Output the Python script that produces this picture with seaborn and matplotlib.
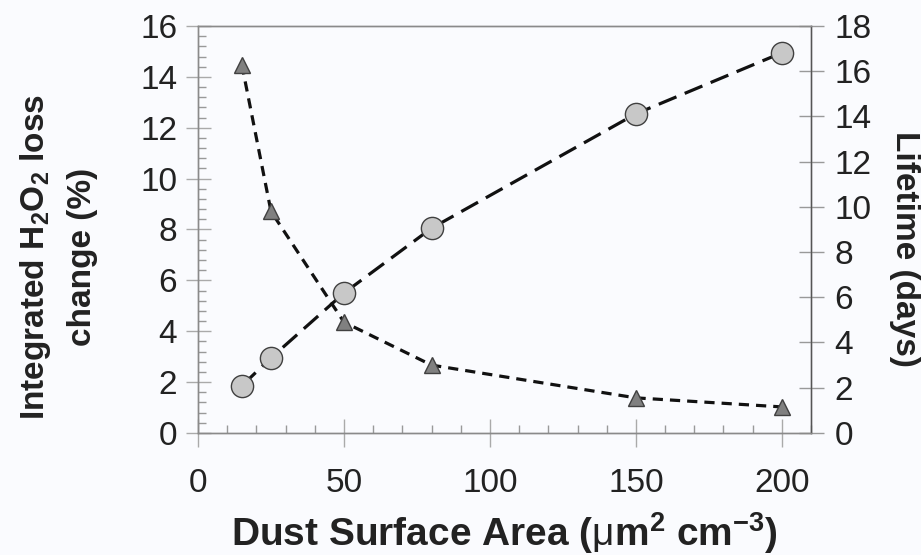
import matplotlib
matplotlib.use("Agg")
import matplotlib.pyplot as plt
import seaborn as sns
import pandas as pd
from matplotlib.ticker import MultipleLocator

# Data
dust_area = [15, 25, 50, 80, 150, 200]
h2o2_loss_change = [1.85, 2.95, 5.5, 8.05, 12.55, 14.95]
lifetime_days = [16.3, 9.8, 4.9, 3.0, 1.55, 1.15]
x_ticks = [0, 50, 100, 150, 200]
left_ticks = [0, 2, 4, 6, 8, 10, 12, 14, 16]
right_ticks = [0, 2, 4, 6, 8, 10, 12, 14, 16, 18]

df = pd.DataFrame({"area": dust_area, "loss": h2o2_loss_change, "life": lifetime_days})

sns.set_theme(style="ticks")
plt.rcParams["font.family"] = ["Liberation Sans", "DejaVu Sans"]
plt.rcParams["mathtext.fontset"] = "custom"
plt.rcParams["mathtext.rm"] = "Liberation Sans"
plt.rcParams["mathtext.bf"] = "Liberation Sans:bold"
plt.rcParams["mathtext.it"] = "Liberation Sans:italic"

bg = "#fafbfe"
fig = plt.figure(figsize=(9.21, 5.55), dpi=100, facecolor=bg)
ax = fig.add_axes([0.215, 0.22, 0.6656, 0.733])
ax.set_facecolor(bg)
ax2 = ax.twinx()

sns.lineplot(data=df, x="area", y="loss", ax=ax, color="#111111", lw=2.3,
             marker="o", markersize=16, markerfacecolor="#c8c8c8",
             markeredgecolor="#404040", markeredgewidth=1.0, errorbar=None, zorder=3)
sns.lineplot(data=df, x="area", y="life", ax=ax2, color="#111111", lw=2.3,
             marker="^", markersize=12, markerfacecolor="#808080",
             markeredgecolor="#404040", markeredgewidth=1.0, errorbar=None, zorder=3)
for ln in ax.get_lines():
    ln.set_dashes((6, 2.8))
for ln in ax2.get_lines():
    ln.set_dashes((3.2, 2.2))

ax.set_xlim(0, 210)
ax.set_ylim(0, 16)
ax2.set_ylim(0, 18)
ax.set_xticks(x_ticks)
ax.set_yticks(left_ticks)
ax2.set_yticks(right_ticks)
ax.xaxis.set_minor_locator(MultipleLocator(10))
ax.yaxis.set_minor_locator(MultipleLocator(0.4))

spine_c = "#8a8a8a"
for a in (ax, ax2):
    for s in a.spines.values():
        s.set_color(spine_c)
        s.set_linewidth(1.0)
ax2.spines["right"].set_color("#555555")

ax.tick_params(axis="x", which="major", direction="inout", length=20, width=1,
               color="#aaaaaa", pad=15, labelsize=24, labelcolor="#222222")
ax.tick_params(axis="x", which="minor", direction="in", length=6, width=1, color="#999999")
ax.tick_params(axis="y", which="major", direction="inout", length=18, width=1,
               color="#aaaaaa", pad=6, labelsize=24, labelcolor="#222222")
ax.tick_params(axis="y", which="minor", direction="in", length=6, width=1, color="#999999")
ax2.tick_params(axis="y", which="major", direction="inout", length=18, width=1,
                color="#999999", pad=8, labelsize=24, labelcolor="#222222")
ax2.tick_params(axis="y", which="minor", length=0)

ax.set_xlabel(r"Dust Surface Area ($\mathrm{\mu}$m$^\mathbf{2}$ cm$^\mathbf{-3}$)",
              fontsize=28, fontweight="bold", color="#222222", labelpad=8)
ax.set_ylabel("Integrated " + r"$\mathbf{H_2O_2}$" + " loss\nchange (%)",
              fontsize=24, fontweight="bold", color="#222222",
              linespacing=1.6, va="center", ha="center")
ax.yaxis.set_label_coords(-0.228, 0.432)
ax2.set_ylabel("Lifetime (days)", fontsize=24, fontweight="bold", color="#222222",
               rotation=-90, va="center", ha="center")
ax2.yaxis.set_label_coords(1.153, 0.452)

fig.savefig("out.png", dpi=100, facecolor=bg)
